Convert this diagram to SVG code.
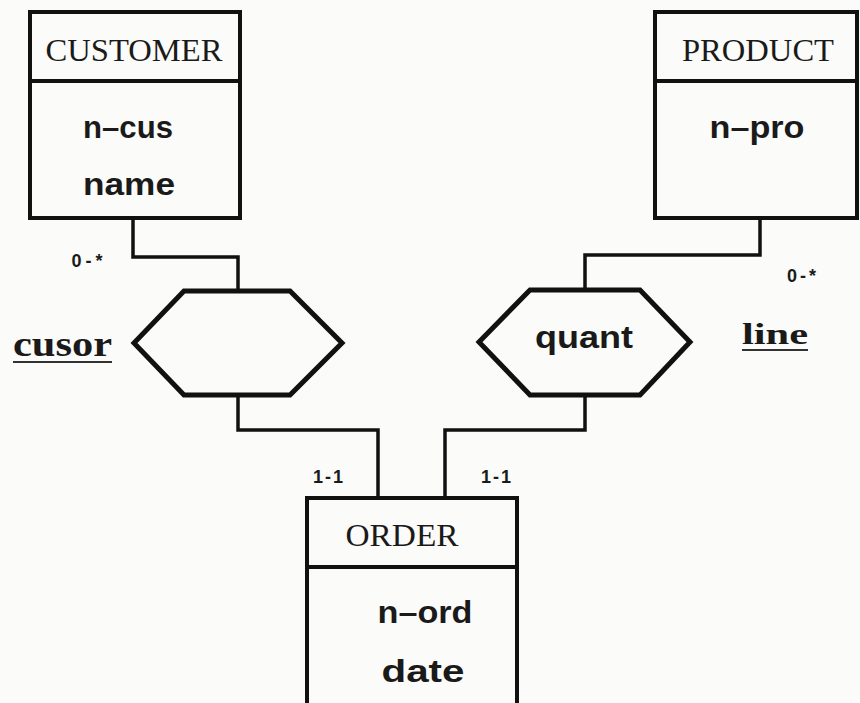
<svg xmlns="http://www.w3.org/2000/svg" width="860" height="703" viewBox="0 0 860 703">
  <style>
    .box { fill: none; stroke: #111; stroke-width: 4; }
    .rel { fill: none; stroke: #111; stroke-width: 5; stroke-linejoin: miter; }
    .wire { fill: none; stroke: #111; stroke-width: 3.5; stroke-linejoin: miter; }
    .title { font-family: "Liberation Serif", serif; font-size: 32px; fill: #1a1a1a; text-anchor: middle; }
    .attr { font-family: "Liberation Sans", Arial, sans-serif; font-weight: bold; font-size: 31px; fill: #1a1a1a; text-anchor: middle; }
    .rname { font-family: "Liberation Serif", serif; font-weight: bold; fill: #1a1a1a; }
    .uline { stroke: #333; stroke-width: 2; }
    .card { font-family: "Liberation Sans", Arial, sans-serif; font-weight: bold; font-size: 18px; fill: #1a1a1a; text-anchor: middle; }
  </style>
  <rect width="860" height="703" fill="#fbfbf9"/>

  <!-- connectors between entities and relationships -->
  <g id="connectors">
    <polyline class="wire" points="133,218 133,257 238,257 238,291"/>
    <polyline class="wire" points="238,395 238,430 378,430 378,498"/>
    <polyline class="wire" points="760,218 760,255 585,255 585,290"/>
    <polyline class="wire" points="585,395 585,430 445,430 445,498"/>
    <text class="card" x="89" y="267" letter-spacing="4">0-*</text>
    <text class="card" x="803" y="282" letter-spacing="3">0-*</text>
    <text class="card" x="329" y="483" letter-spacing="2">1-1</text>
    <text class="card" x="497" y="483" letter-spacing="2">1-1</text>
  </g>

  <g id="customer">
    <rect class="box" x="30" y="12" width="210" height="206"/>
    <line class="box" x1="30" y1="81" x2="240" y2="81"/>
    <text class="title" x="134" y="61" textLength="177" lengthAdjust="spacingAndGlyphs">CUSTOMER</text>
    <text class="attr" x="128" y="138" textLength="90" lengthAdjust="spacingAndGlyphs">n–cus</text>
    <text class="attr" x="129" y="195" textLength="92" lengthAdjust="spacingAndGlyphs">name</text>
  </g>

  <g id="product">
    <rect class="box" x="655" y="12" width="202" height="206"/>
    <line class="box" x1="655" y1="81" x2="857" y2="81"/>
    <text class="title" x="758" y="61" textLength="152" lengthAdjust="spacingAndGlyphs">PRODUCT</text>
    <text class="attr" x="757" y="138" textLength="95" lengthAdjust="spacingAndGlyphs">n–pro</text>
  </g>

  <g id="order">
    <polyline class="box" points="307,710 307,498 517,498 517,710"/>
    <line class="box" x1="307" y1="567" x2="517" y2="567"/>
    <text class="title" x="402" y="546" textLength="113" lengthAdjust="spacingAndGlyphs">ORDER</text>
    <text class="attr" x="425" y="623" textLength="95" lengthAdjust="spacingAndGlyphs">n–ord</text>
    <text class="attr" x="423" y="682" textLength="83" lengthAdjust="spacingAndGlyphs">date</text>
  </g>

  <g id="cusor">
    <polygon class="rel" points="184,291 290,291 342,343 290,395 184,395 134,343"/>
    <text class="rname" x="13" y="356" font-size="36" textLength="99" lengthAdjust="spacingAndGlyphs">cusor</text>
    <line class="uline" x1="13" y1="362" x2="112" y2="362"/>
  </g>

  <g id="line">
    <polygon class="rel" points="530,290 640,290 690,342 640,395 530,395 479,342"/>
    <text class="attr" x="584" y="348" textLength="98" lengthAdjust="spacingAndGlyphs">quant</text>
    <text class="rname" x="742" y="344" font-size="30" textLength="66" lengthAdjust="spacingAndGlyphs">line</text>
    <line class="uline" x1="742" y1="350" x2="808" y2="350"/>
  </g>
</svg>
